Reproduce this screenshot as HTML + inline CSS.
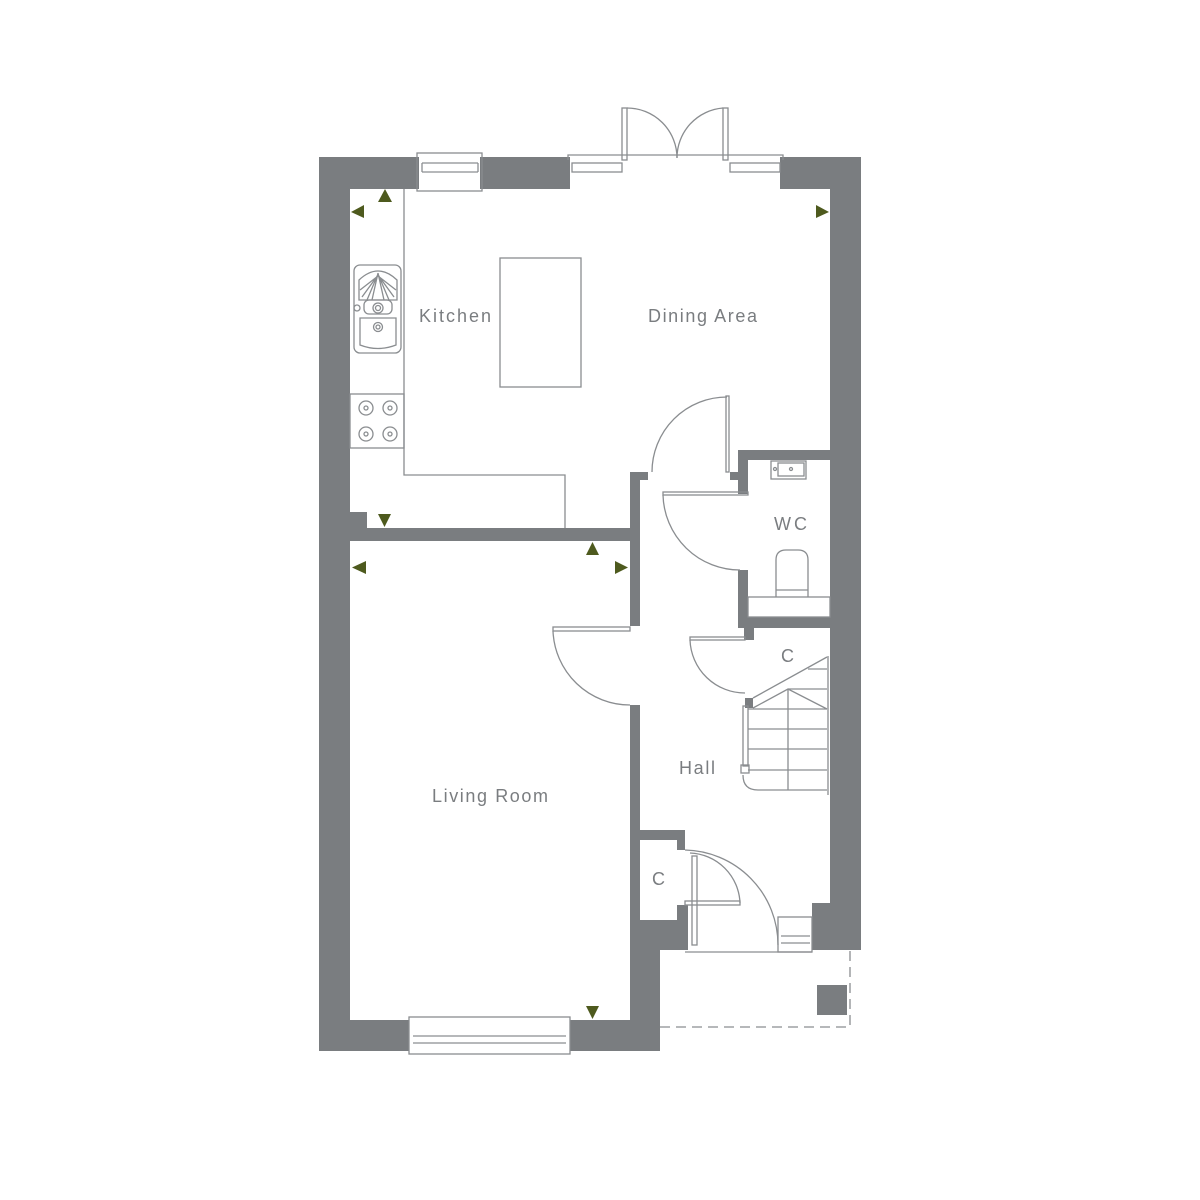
<!DOCTYPE html>
<html><head><meta charset="utf-8"><style>
html,body{margin:0;padding:0;background:#fff;}
svg{display:block;}
text{font-family:"Liberation Sans",sans-serif;fill:#7a7d80;font-size:18px;}
</style></head><body>
<svg width="1200" height="1200" viewBox="0 0 1200 1200" xmlns="http://www.w3.org/2000/svg">
<g fill="#7a7d80">
<!-- outer walls -->
<rect x="319" y="157" width="31" height="894"/>
<rect x="319" y="157" width="100" height="32"/>
<rect x="480" y="157" width="90" height="32"/>
<rect x="780" y="157" width="81" height="32"/>
<rect x="830" y="157" width="31" height="793"/>
<rect x="812" y="903" width="49" height="47"/>
<rect x="319" y="1020" width="90" height="31"/>
<rect x="570" y="1020" width="90" height="31"/>
<rect x="630" y="920" width="30" height="131"/>
<rect x="630" y="920" width="58" height="30"/>
<!-- interior -->
<rect x="350" y="528" width="290" height="13"/>
<rect x="350" y="512" width="17" height="16"/>
<rect x="630" y="472" width="10" height="154"/>
<rect x="630" y="472" width="18" height="8"/>
<rect x="630" y="705" width="10" height="215"/>
<rect x="640" y="830" width="45" height="10"/>
<rect x="677" y="830" width="8" height="20"/>
<rect x="677" y="905" width="11" height="45"/>
<rect x="738" y="450" width="92" height="10"/>
<rect x="738" y="450" width="10" height="44"/>
<rect x="730" y="472" width="8" height="8"/>
<rect x="738" y="570" width="10" height="58"/>
<rect x="738" y="617" width="92" height="11"/>
<rect x="744" y="628" width="10" height="12"/>
<rect x="745" y="698" width="8" height="10"/>
<rect x="817" y="985" width="30" height="30"/>
</g>
<g fill="none" stroke="#8a8d90" stroke-width="1.3">
<!-- windows -->
<rect x="417" y="153" width="65" height="38"/>
<line x1="422" y1="163" x2="478" y2="163"/><line x1="422" y1="172" x2="478" y2="172"/>
<line x1="422" y1="163" x2="422" y2="172"/><line x1="478" y1="163" x2="478" y2="172"/>
<polyline points="568,160 568,155 622,155"/><polyline points="728,155 783,155 783,160"/>
<rect x="572" y="163" width="50" height="9"/><rect x="730" y="163" width="50" height="9"/>
<line x1="622" y1="155" x2="728" y2="155"/>
<rect x="409" y="1017" width="161" height="37"/>
<line x1="413" y1="1036" x2="566" y2="1036"/><line x1="413" y1="1043" x2="566" y2="1043"/>
<rect x="778" y="917" width="34" height="35"/>
<line x1="781" y1="936" x2="810" y2="936"/><line x1="781" y1="943" x2="810" y2="943"/>
<line x1="685" y1="952" x2="812" y2="952"/>
<!-- patio doors -->
<rect x="622" y="108" width="5" height="52"/><rect x="723" y="108" width="5" height="52"/>
<path d="M627,108 A50,50 0 0 1 677,158"/><path d="M723,108 A50,50 0 0 0 677,158"/>
<!-- kitchen door -->
<rect x="726" y="396" width="3" height="76"/>
<path d="M727,397 A75,75 0 0 0 652,472"/>
<!-- WC door -->
<rect x="663" y="492" width="85" height="3"/>
<path d="M663,495 A77,77 0 0 0 740,570"/>
<!-- living door -->
<rect x="553" y="627" width="77" height="4"/>
<path d="M553,631 A77,77 0 0 0 630,705"/>
<!-- under-stair C door -->
<rect x="690" y="637" width="55" height="3"/>
<path d="M690,640 A55,55 0 0 0 745,693"/>
<!-- front door -->
<rect x="692" y="856" width="5" height="89"/>
<path d="M685,850 A95,95 0 0 1 778,945"/>
<rect x="685" y="901" width="55" height="4"/>
<path d="M690,853 A52,52 0 0 1 740,903"/>
<!-- kitchen counters -->
<polyline points="404,189 404,475 565,475 565,528"/>
<rect x="350" y="394" width="54" height="54"/>
<rect x="500" y="258" width="81" height="129"/>
<!-- sink -->
<rect x="354" y="265" width="47" height="88" rx="6"/>
<path d="M359,300 L359,280 Q378,262 397,280 L397,300 Z"/>
<path d="M367,300 L378,274 M372,300 L378,273 M384,300 L378,273 M389,300 L378,274 M362,297 L378,275 M394,297 L378,275 M360,290 L378,276 M396,290 L378,276"/>
<rect x="364" y="300" width="28" height="14" rx="5"/>
<circle cx="378" cy="308" r="5"/><circle cx="378" cy="308" r="2.5"/>
<path d="M360,318 L396,318 L396,345 Q378,352 360,345 Z"/>
<circle cx="378" cy="327" r="4.5"/><circle cx="378" cy="327" r="2"/>
<circle cx="357" cy="308" r="3"/>
<!-- hob -->
<circle cx="366" cy="408" r="7"/><circle cx="390" cy="408" r="7"/>
<circle cx="366" cy="434" r="7"/><circle cx="390" cy="434" r="7"/>
<circle cx="366" cy="408" r="2"/><circle cx="390" cy="408" r="2"/>
<circle cx="366" cy="434" r="2"/><circle cx="390" cy="434" r="2"/>
<!-- WC fittings -->
<rect x="771" y="461" width="35" height="18"/><rect x="778" y="463" width="26" height="13"/>
<circle cx="775" cy="469" r="1.5"/><circle cx="791" cy="469" r="1.5"/>
<path d="M776,597 L776,560 Q776,550 786,550 L798,550 Q808,550 808,560 L808,597"/>
<line x1="776" y1="590" x2="808" y2="590"/>
<rect x="748" y="597" width="82" height="20"/>
<!-- stairs -->
<line x1="828" y1="656" x2="828" y2="795"/>
<line x1="753" y1="698" x2="827" y2="657"/>
<polyline points="753,708 788,689 827,709"/>
<line x1="808" y1="669" x2="827" y2="669"/>
<line x1="788" y1="689" x2="827" y2="689"/>
<line x1="748" y1="709" x2="827" y2="709"/>
<line x1="748" y1="729" x2="827" y2="729"/>
<line x1="748" y1="749" x2="827" y2="749"/>
<line x1="748" y1="770" x2="827" y2="770"/>
<line x1="788" y1="689" x2="788" y2="790"/>
<path d="M743,775 Q743,790 758,790 L827,790"/>
<rect x="743" y="706" width="5" height="60"/>
<rect x="741" y="765" width="8" height="8"/>
</g>
<path d="M660,1027 L850,1027 L850,950" fill="none" stroke="#8a8d90" stroke-width="1.3" stroke-dasharray="10,6"/>
<g fill="#4e5a1e">
<polygon points="378,202 392,202 385,189"/>
<polygon points="364,205 364,218 351,212"/>
<polygon points="816,205 816,218 829,212"/>
<polygon points="378,514 391,514 384.5,527"/>
<polygon points="586,555 599,555 592.5,542"/>
<polygon points="366,561 366,574 352,567.5"/>
<polygon points="615,561 615,574 628,567.5"/>
<polygon points="586,1006 599,1006 592.5,1019"/>
</g>
<text x="419" y="322" textLength="72">Kitchen</text>
<text x="648" y="322" textLength="109">Dining Area</text>
<text x="774" y="530" textLength="33">WC</text>
<text x="781" y="662" textLength="14">C</text>
<text x="679" y="774" textLength="36">Hall</text>
<text x="432" y="802" textLength="116">Living Room</text>
<text x="652" y="885" textLength="14">C</text>
</svg>
</body></html>
